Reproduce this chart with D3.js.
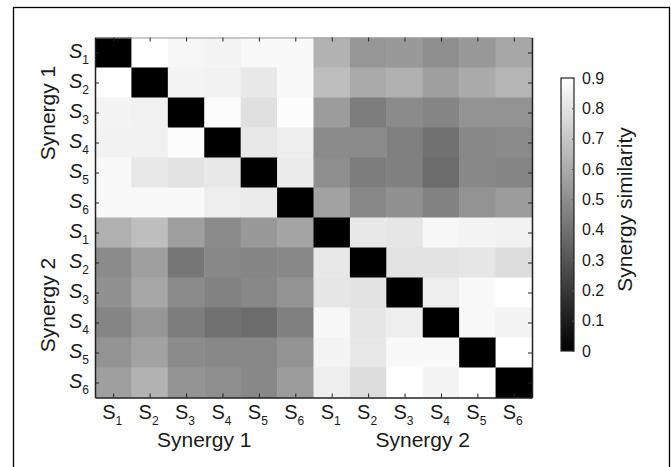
<!DOCTYPE html>
<html>
<head>
<meta charset="utf-8">
<script src="https://cdn.jsdelivr.net/npm/d3@7"></script>
<style>
  body { margin: 0; background: #fff; }
  text { font-family: "Liberation Sans", Arial, sans-serif; fill: #1a1a1a; }
</style>
</head>
<body>
<script>
// labels
const synergies = ["Synergy 1", "Synergy 2"];
const subs = ["1", "2", "3", "4", "5", "6"];
const cbarTicks = [0, 0.1, 0.2, 0.3, 0.4, 0.5, 0.6, 0.7, 0.8, 0.9];

// blocks of the similarity matrix (rows x columns)
const syn1VsSyn1 = [
  [0, 0.90, 0.87, 0.86, 0.88, 0.88],
  [0.90, 0, 0.86, 0.85, 0.82, 0.88],
  [0.86, 0.85, 0, 0.89, 0.79, 0.89],
  [0.85, 0.85, 0.89, 0, 0.82, 0.84],
  [0.88, 0.82, 0.80, 0.82, 0, 0.83],
  [0.88, 0.88, 0.88, 0.84, 0.83, 0]
];
const syn1VsSyn2 = [
  [0.63, 0.53, 0.54, 0.50, 0.54, 0.59],
  [0.67, 0.60, 0.62, 0.56, 0.60, 0.64],
  [0.55, 0.44, 0.49, 0.47, 0.52, 0.52],
  [0.49, 0.49, 0.45, 0.40, 0.48, 0.49],
  [0.50, 0.44, 0.45, 0.38, 0.48, 0.47],
  [0.57, 0.48, 0.51, 0.46, 0.52, 0.55]
];
const syn2VsSyn1 = [
  [0.62, 0.67, 0.56, 0.49, 0.54, 0.58],
  [0.49, 0.56, 0.42, 0.48, 0.47, 0.48],
  [0.51, 0.59, 0.49, 0.46, 0.48, 0.52],
  [0.47, 0.53, 0.44, 0.40, 0.38, 0.45],
  [0.52, 0.57, 0.49, 0.48, 0.48, 0.52],
  [0.56, 0.63, 0.52, 0.50, 0.48, 0.55]
];
const syn2VsSyn2 = [
  [0, 0.82, 0.81, 0.87, 0.86, 0.85],
  [0.82, 0, 0.80, 0.80, 0.81, 0.78],
  [0.81, 0.80, 0, 0.84, 0.88, 0.90],
  [0.87, 0.81, 0.84, 0, 0.88, 0.86],
  [0.86, 0.82, 0.88, 0.88, 0, 0.90],
  [0.84, 0.78, 0.90, 0.86, 0.90, 0]
];

const W = 671, H = 467;
const svg = d3.select("body").append("svg")
  .attr("width", W)
  .attr("height", H);

// outer frame (bottom edge runs off the picture)
svg.append("rect")
  .attr("x", 13.5).attr("y", 7.5)
  .attr("width", 656).attr("height", 480)
  .attr("fill", "none").attr("stroke", "#000").attr("stroke-width", 1.3);

// build cells from the four blocks
const blocks = [[syn1VsSyn1, syn1VsSyn2], [syn2VsSyn1, syn2VsSyn2]];
const cells = [];
blocks.forEach((blockRow, bi) => {
  blockRow.forEach((block, bj) => {
    block.forEach((row, i) => {
      row.forEach((v, j) => {
        cells.push({ r: bi * 6 + i, c: bj * 6 + j, v: v });
      });
    });
  });
});

const idx = d3.range(12);
const x = d3.scaleBand().domain(idx).range([95, 532]);
const y = d3.scaleBand().domain(idx).range([37.5, 397.5]);
const color = d3.scaleLinear().domain([0, 0.9]).range(["#000000", "#ffffff"]).clamp(true);

svg.append("g")
  .selectAll("rect")
  .data(cells)
  .enter()
  .append("rect")
    .attr("x", d => x(d.c))
    .attr("y", d => y(d.r))
    .attr("width", x.bandwidth() + 0.5)
    .attr("height", y.bandwidth() + 0.5)
    .attr("fill", d => color(d.v))

// box with inward ticks on all sides
const xc = d3.scaleLinear().domain([0, 12]).range([95, 532]);
const yc = d3.scaleLinear().domain([0, 12]).range([37.5, 397.5]);
const centers = idx.map(i => i + 0.5);
const tickStyle = g => {
  g.selectAll(".domain").attr("stroke", "#222").attr("stroke-width", 1.5);
  g.selectAll(".tick line").attr("stroke", "#222").attr("stroke-width", 1);
};
svg.append("g").attr("transform", "translate(0,397.5)")
  .call(d3.axisBottom(xc).tickValues(centers).tickSize(-4).tickSizeOuter(0).tickFormat(""))
  .call(tickStyle);
svg.append("g").attr("transform", "translate(0,37.5)")
  .call(d3.axisTop(xc).tickValues(centers).tickSize(-4).tickSizeOuter(0).tickFormat(""))
  .call(tickStyle)
  .call(g => g.select(".domain").attr("stroke", "#999").attr("stroke-width", 1));
svg.append("g").attr("transform", "translate(95,0)")
  .call(d3.axisLeft(yc).tickValues(centers).tickSize(-4).tickSizeOuter(0).tickFormat(""))
  .call(tickStyle);
svg.append("g").attr("transform", "translate(532,0)")
  .call(d3.axisRight(yc).tickValues(centers).tickSize(-4).tickSizeOuter(0).tickFormat(""))
  .call(tickStyle);

// tick labels S with subscript
const labels = idx.map(i => subs[i % 6]);

const xl = svg.append("g").selectAll("text")
  .data(labels)
  .enter()
  .append("text")
    .attr("x", (d, i) => x(i) + x.bandwidth() / 2 - 1)
    .attr("y", 419)
    .attr("text-anchor", "middle")
    .style("font-size", "20px");
xl.append("tspan").text("S");
xl.append("tspan").attr("dy", 6).style("font-size", "12px").text(d => d);

const yl = svg.append("g").selectAll("text")
  .data(labels)
  .enter()
  .append("text")
    .attr("x", 89)
    .attr("y", (d, i) => y(i) + y.bandwidth() / 2 + 5)
    .attr("text-anchor", "end")
    .style("font-size", "20px")
    .style("font-style", "italic");
yl.append("tspan").text("S");
yl.append("tspan").attr("dy", 6).style("font-size", "12px").style("font-style", "normal").text(d => d);

// group titles
svg.append("g").selectAll("text")
  .data(synergies)
  .enter()
  .append("text")
    .attr("x", (d, i) => xc(i * 6 + 3))
    .attr("y", 447)
    .attr("text-anchor", "middle")
    .style("font-size", "21px")
    .text(d => d);

const yTitleY = [113, 305];
svg.append("g").selectAll("text")
  .data(synergies)
  .enter()
  .append("text")
    .attr("transform", (d, i) => `translate(55,${yTitleY[i]}) rotate(-90)`)
    .attr("text-anchor", "middle")
    .style("font-size", "21px")
    .text(d => d);

// colorbar
const cb = { x: 561, y: 78, w: 13, h: 273 };
const grad = svg.append("defs").append("linearGradient")
  .attr("id", "cbar").attr("x1", 0).attr("y1", 1).attr("x2", 0).attr("y2", 0);
grad.append("stop").attr("offset", "0%").attr("stop-color", color(0));
grad.append("stop").attr("offset", "100%").attr("stop-color", color(0.9));
svg.append("rect")
  .attr("x", cb.x).attr("y", cb.y)
  .attr("width", cb.w).attr("height", cb.h)
  .attr("fill", "url(#cbar)")
  .attr("stroke", "#222").attr("stroke-width", 1.2);

const cbScale = d3.scaleLinear().domain([0, 0.9]).range([cb.y + cb.h, cb.y]);
svg.append("g").attr("transform", `translate(${cb.x + cb.w},0)`)
  .call(d3.axisRight(cbScale).tickValues(cbarTicks).tickSize(-2).tickSizeOuter(0)
    .tickPadding(8).tickFormat(d => d === 0 ? "0" : d3.format(".1f")(d)))
  .call(g => g.select(".domain").remove())
  .call(g => g.selectAll(".tick line").attr("stroke", "#555"))
  .call(g => g.selectAll(".tick text")
    .style("font-family", "'Liberation Sans', Arial, sans-serif")
    .style("font-size", "16px").attr("fill", "#1a1a1a"));

svg.append("text")
  .attr("transform", `translate(632,${cb.y + cb.h / 2 - 5}) rotate(-90)`)
  .attr("text-anchor", "middle")
  .style("font-size", "21px")
  .text("Synergy similarity");
</script>
</body>
</html>
